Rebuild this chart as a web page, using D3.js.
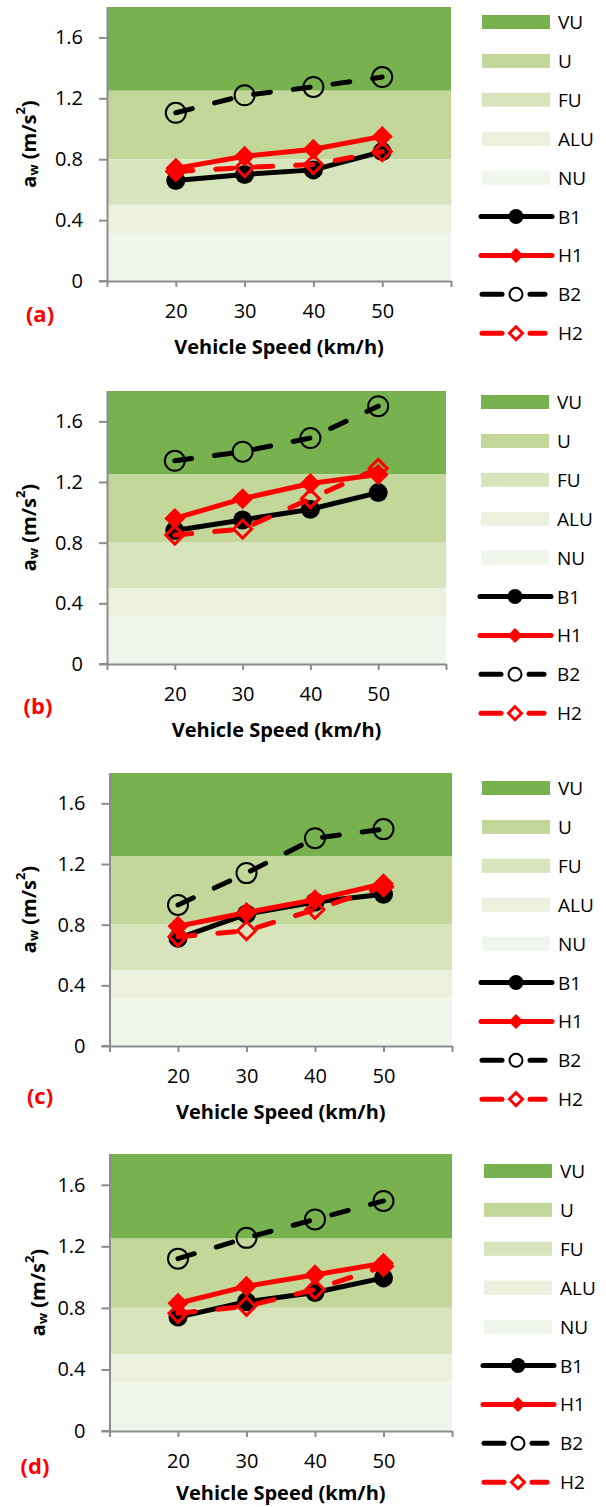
<!DOCTYPE html>
<html>
<head>
<meta charset="utf-8">
<script src="https://cdn.jsdelivr.net/npm/d3@7"></script>
<style>
  body { margin: 0; background: #fff; }
  svg { display: block; }
  text { font-family: "Open Sans", Lato, sans-serif; fill: #000; }
</style>
</head>
<body>
<svg id="chart" width="606" height="1507"></svg>
<script>
// vehicle speeds (km/h) on the x axis
var speeds = [20, 30, 40, 50]
var panelTags = ["(a)", "(b)", "(c)", "(d)"]
var seriesNames = ["B1", "H1", "B2", "H2"]

// weighted rms acceleration a_w (m/s²), one row per panel (a)..(d)
var b1Values = [
  [0.66, 0.70, 0.73, 0.85],
  [0.88, 0.95, 1.02, 1.13],
  [0.71, 0.87, 0.95, 1.00],
  [0.74, 0.84, 0.90, 0.995]
]
var h1Values = [
  [0.74, 0.82, 0.865, 0.95],
  [0.96, 1.09, 1.19, 1.25],
  [0.79, 0.88, 0.965, 1.07],
  [0.83, 0.94, 1.015, 1.09]
]
var b2Values = [
  [1.105, 1.22, 1.275, 1.34],
  [1.34, 1.40, 1.49, 1.70],
  [0.93, 1.14, 1.37, 1.43],
  [1.12, 1.255, 1.375, 1.495]
]
var h2Values = [
  [0.72, 0.745, 0.765, 0.85],
  [0.85, 0.89, 1.09, 1.29],
  [0.72, 0.76, 0.90, 1.05],
  [0.765, 0.81, 0.92, 1.07]
]

// comfort bands (ISO 2631) drawn behind the lines
var bandNames = ["VU", "U", "FU", "ALU", "NU"]
var bandLow = [1.25, 0.8, 0.5, 0.315, 0]
var bandHigh = [1.8, 1.25, 0.8, 0.5, 0.315]

var yTicks = [0, 0.4, 0.8, 1.2, 1.6]
var xTicks = [10, 20, 30, 40, 50, 60]
var xLabels = [20, 30, 40, 50]

// ---- styles / layout (not data) ----
var bandColors = ["#77b24f", "#c4d79b", "#d8e4bc", "#ebf1de", "#f1f6ec"]
var seriesStyle = {
  B1: { color: "#000", dashed: false, shape: "circle", filled: true },
  H1: { color: "#ff0000", dashed: false, shape: "diamond", filled: true },
  B2: { color: "#000", dashed: true, shape: "circle", filled: false },
  H2: { color: "#ff0000", dashed: true, shape: "diamond", filled: false }
}
var axisGrey = "#8c8c8c"

var panels = [
  { top: 7, bottom: 281, left: 107, right: 451, legendX: 482, legendY: 22, tagX: 40, tagY: 313, yTitleX: 28, titleY: 346 },
  { top: 391, bottom: 664, left: 107, right: 446, legendX: 481, legendY: 402, tagX: 38, tagY: 705, yTitleX: 28, titleY: 729 },
  { top: 773, bottom: 1046, left: 109.5, right: 452, legendX: 482, legendY: 788, tagX: 40, tagY: 1095, yTitleX: 28, titleY: 1111 },
  { top: 1154, bottom: 1431, left: 109.5, right: 452, legendX: 484, legendY: 1171, tagX: 35, tagY: 1465, yTitleX: 37, titleY: 1492 }
]

var svg = d3.select("#chart")

function markerPath(s) {
  return "M0," + (-s) + "L" + s + ",0L0," + s + "L" + (-s) + ",0Z"
}

function drawMarker(g, name, cx, cy, big) {
  var st = seriesStyle[name]
  var fill = st.filled ? st.color : (big ? "none" : "#fff")
  if (st.shape === "circle") {
    g.append("circle")
      .attr("cx", cx).attr("cy", cy)
      .attr("r", st.filled ? (big ? 9.5 : 7.5) : (big ? 10 : 6.5))
      .attr("fill", fill)
      .attr("stroke", st.color)
      .attr("stroke-width", st.filled ? 0 : 2)
  } else {
    g.append("path")
      .attr("transform", "translate(" + cx + "," + cy + ")")
      .attr("d", markerPath(st.filled ? (big ? 10.5 : 7.5) : (big ? 9 : 6.5)))
      .attr("fill", fill)
      .attr("stroke", st.color)
      .attr("stroke-width", st.filled ? 0 : 3)
  }
}

panels.forEach(function (p, pi) {
  var g = svg.append("g")

  var x = d3.scaleLinear().domain([10, 60]).range([p.left, p.right])
  var y = d3.scaleLinear().domain([0, 1.8]).range([p.bottom, p.top])

  // background bands
  g.append("g").selectAll("rect")
    .data(bandNames)
    .enter().append("rect")
    .attr("x", p.left)
    .attr("width", p.right - p.left)
    .attr("y", function (d, i) { return y(bandHigh[i]) })
    .attr("height", function (d, i) { return y(bandLow[i]) - y(bandHigh[i]) })
    .attr("fill", function (d, i) { return bandColors[i] })

  // axes
  var yAxis = d3.axisLeft(y)
    .tickValues(yTicks)
    .tickSize(8)
    .tickSizeOuter(0)
    .tickPadding(16)
    .tickFormat(function (d) { return d === 0 ? "0" : d.toFixed(1) })
  var yG = g.append("g")
    .attr("transform", "translate(" + p.left + ",0)")
    .call(yAxis)

  var xAxis = d3.axisBottom(x)
    .tickValues(xTicks)
    .tickSize(6)
    .tickSizeOuter(0)
    .tickPadding(17)
    .tickFormat(function (d) { return xLabels.indexOf(d) >= 0 ? d : "" })
  var xG = g.append("g")
    .attr("transform", "translate(0," + p.bottom + ")")
    .call(xAxis)

  ;[xG, yG].forEach(function (a) {
    a.select(".domain").attr("stroke", axisGrey).attr("stroke-width", 2)
    a.selectAll(".tick line").attr("stroke", axisGrey).attr("stroke-width", 2)
    a.selectAll(".tick text").attr("font-size", 20).attr("fill", "#000")
      .style("font-family", "'Open Sans', Lato, sans-serif")
  })
  // x axis line reaches the left tick mark
  xG.append("line")
    .attr("x1", p.left - 8).attr("x2", p.left)
    .attr("stroke", axisGrey).attr("stroke-width", 2)

  // series
  var allValues = [b1Values[pi], h1Values[pi], b2Values[pi], h2Values[pi]]
  var line = d3.line()
    .x(function (d, i) { return x(speeds[i]) })
    .y(function (d) { return y(d) })

  seriesNames.forEach(function (name, si) {
    var st = seriesStyle[name]
    var vals = allValues[si]
    var sg = g.append("g")
    sg.append("path")
      .datum(vals)
      .attr("d", line)
      .attr("fill", "none")
      .attr("stroke", st.color)
      .attr("stroke-width", 5)
      .attr("stroke-linecap", "round")
      .attr("stroke-linejoin", "round")
      .attr("stroke-dasharray", st.dashed ? "17,23" : null)
    vals.forEach(function (v, i) {
      drawMarker(sg, name, x(speeds[i]), y(v), true)
    })
  })

  // axis titles
  var yt = g.append("text")
    .attr("transform", "translate(" + p.yTitleX + "," + ((p.top + p.bottom) / 2) + ") rotate(-90)")
    .attr("text-anchor", "middle")
    .attr("dominant-baseline", "central")
    .attr("font-size", 20)
    .attr("font-weight", "bold")
  yt.append("tspan").text("a")
  yt.append("tspan").attr("font-size", 13).attr("dy", 5).text("w")
  yt.append("tspan").attr("dy", -5).text(" (m/s")
  yt.append("tspan").attr("font-size", 13).attr("dy", -8).text("2")
  yt.append("tspan").attr("dy", 8).text(")")

  g.append("text")
    .attr("x", (p.left + p.right) / 2)
    .attr("y", p.titleY)
    .attr("text-anchor", "middle")
    .attr("dominant-baseline", "central")
    .attr("font-size", 20)
    .attr("font-weight", "bold")
    .text("Vehicle Speed (km/h)")

  g.append("text")
    .attr("x", p.tagX)
    .attr("y", p.tagY)
    .attr("text-anchor", "middle")
    .attr("dominant-baseline", "central")
    .attr("font-size", 22)
    .attr("font-weight", "bold")
    .style("fill", "#ff0000")
    .text(panelTags[pi])

  // legend
  var lg = g.append("g")
  var step = 38.9
  bandNames.forEach(function (name, i) {
    var cy = p.legendY + i * step
    lg.append("rect")
      .attr("x", p.legendX).attr("y", cy - 7)
      .attr("width", 68).attr("height", 14)
      .attr("fill", bandColors[i])
    lg.append("text")
      .attr("x", p.legendX + 76).attr("y", cy)
      .attr("dominant-baseline", "central")
      .attr("font-size", 19)
      .text(name)
  })
  seriesNames.forEach(function (name, si) {
    var st = seriesStyle[name]
    var cy = p.legendY + (bandNames.length + si) * step
    var mid = p.legendX + 34
    var segs = st.dashed ? [[p.legendX, mid - 14], [mid + 14, p.legendX + 63]] : [[p.legendX - 1, p.legendX + 70]]
    segs.forEach(function (s) {
      lg.append("line")
        .attr("x1", s[0]).attr("x2", s[1])
        .attr("y1", cy).attr("y2", cy)
        .attr("stroke", st.color)
        .attr("stroke-width", 5)
        .attr("stroke-linecap", "round")
    })
    drawMarker(lg, name, mid, cy, false)
    lg.append("text")
      .attr("x", p.legendX + 76).attr("y", cy)
      .attr("dominant-baseline", "central")
      .attr("font-size", 19)
      .text(name)
  })
})
</script>
</body>
</html>
